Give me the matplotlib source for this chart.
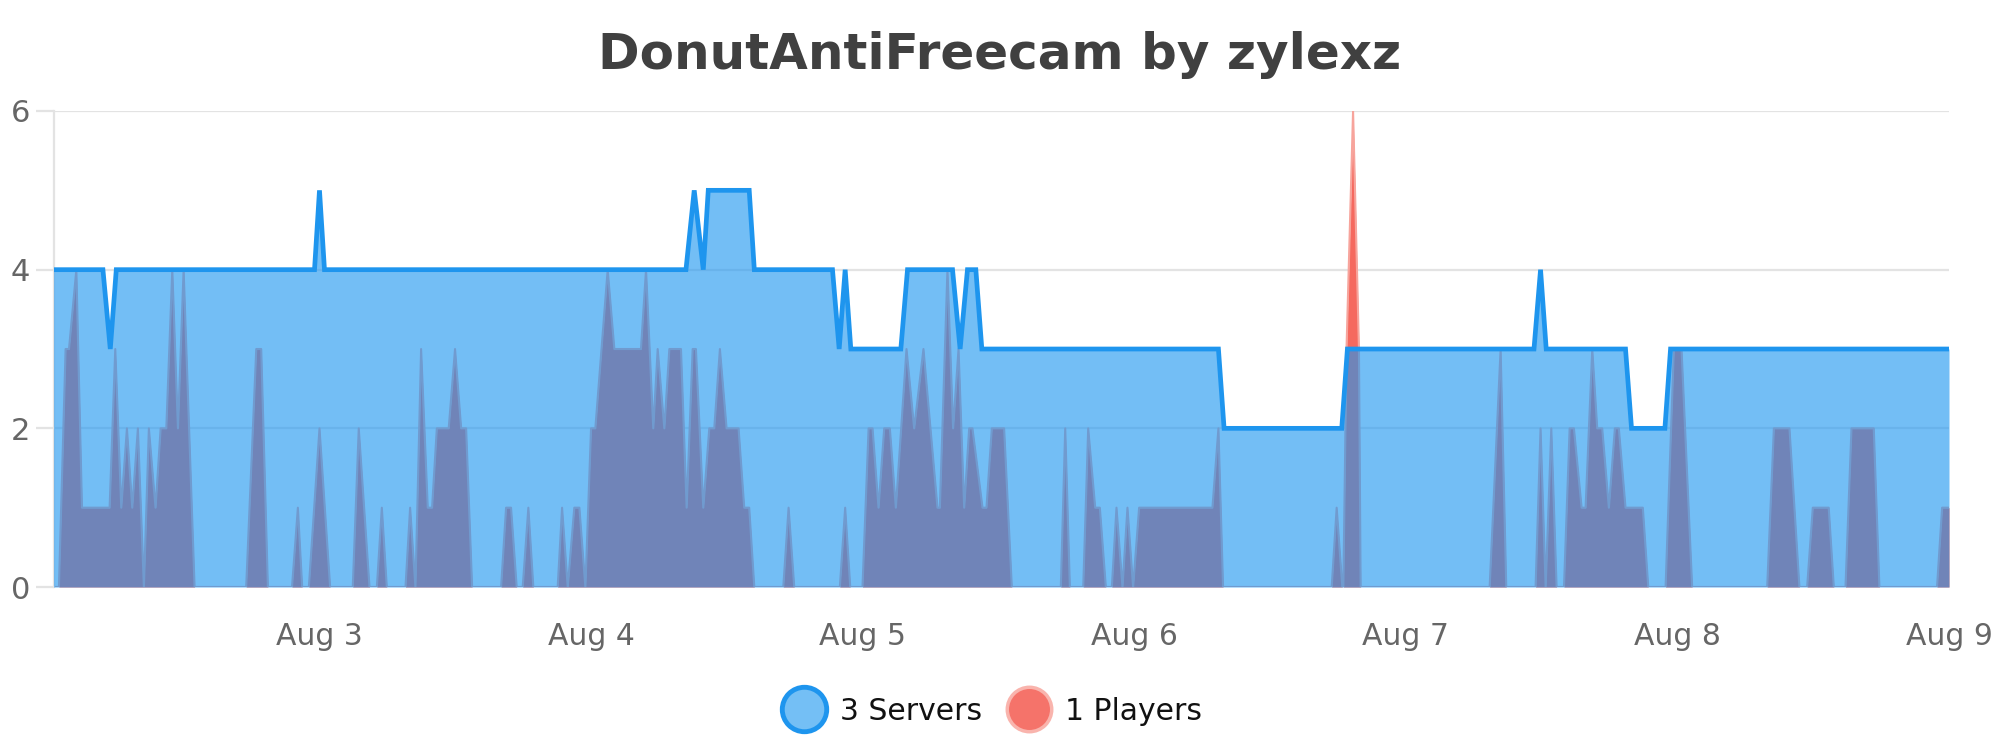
import datetime as dt
import matplotlib
matplotlib.use("Agg")
import matplotlib.pyplot as plt
import matplotlib.dates as mdates
from matplotlib.lines import Line2D

# values, time in hours after Aug 2 00:00
servers_hours = [0.48, 4.84, 5.49, 6.02, 23.54, 23.98, 24.42, 56.37, 57.1, 57.9,
                 58.34, 61.96, 62.41, 69.32, 69.91, 70.44, 70.94, 75.36, 75.95, 79.93,
                 80.6, 81.25, 81.99, 82.52, 103.43, 103.93, 114.33, 114.83, 131.32, 131.9,
                 132.4, 139.41, 139.94, 142.89, 143.39, 168.0]
servers_values = [4, 4, 3, 4, 4, 5, 4, 4, 5, 4,
                  5, 5, 4, 4, 3, 4, 3, 3, 4, 4,
                  3, 4, 4, 3, 3, 2, 2, 3, 3, 4,
                  3, 3, 2, 2, 3, 3]

players_hours = [0.48, 0.95, 1.54, 1.84, 2.49, 2.99, 5.43, 5.93, 6.46, 6.96,
                 7.43, 7.93, 8.46, 8.9, 9.49, 9.94, 10.44, 10.97, 11.47, 11.97,
                 12.94, 17.5, 18.39, 18.83, 19.42, 21.55, 22.07, 22.45, 23.04, 23.98,
                 24.92, 26.92, 27.45, 28.4, 29.05, 29.49, 29.93, 31.58, 31.99, 32.46,
                 32.96, 33.55, 33.93, 34.35, 35.4, 35.96, 36.5, 36.94, 37.47, 40.03,
                 40.47, 40.91, 41.41, 41.94, 42.44, 42.88, 45.03, 45.42, 45.92, 46.5,
                 46.95, 47.48, 47.98, 48.36, 49.45, 50.04, 52.39, 52.84, 53.48, 53.87,
                 54.46, 54.9, 55.93, 56.43, 56.96, 57.25, 57.9, 58.43, 58.87, 59.37,
                 59.96, 61.02, 61.52, 61.96, 62.41, 64.97, 65.44, 65.94, 69.97, 70.44,
                 70.89, 71.97, 72.51, 72.86, 73.39, 73.89, 74.39, 74.92, 75.86, 76.54,
                 77.36, 78.6, 78.81, 79.48, 79.98, 80.46, 80.96, 81.4, 81.69, 82.58,
                 82.93, 83.4, 84.49, 85.17, 89.5, 89.89, 90.3, 91.48, 91.92, 92.54,
                 92.95, 93.48, 94.01, 94.42, 94.95, 95.39, 95.89, 96.42, 102.9, 103.43,
                 103.84, 113.44, 113.88, 114.38, 114.47, 114.75, 115.33, 115.85, 116.0, 127.4,
                 128.37, 128.87, 131.46, 131.9, 132.35, 132.85, 133.32, 133.97, 134.47, 134.85,
                 135.53, 135.88, 136.47, 136.91, 137.35, 137.94, 138.47, 138.82, 139.41, 140.94,
                 141.42, 142.95, 143.68, 144.36, 145.3, 151.93, 152.52, 153.9, 154.78, 155.46,
                 155.96, 157.37, 157.82, 158.85, 159.38, 161.35, 161.85, 166.94, 167.39, 168.0]
players_values = [0, 0, 3, 3, 4, 1, 1, 3, 1, 2,
                  1, 2, 0, 2, 1, 2, 2, 4, 2, 4,
                  0, 0, 3, 3, 0, 0, 1, 0, 0, 2,
                  0, 0, 2, 0, 0, 1, 0, 0, 1, 0,
                  3, 1, 1, 2, 2, 3, 2, 2, 0, 0,
                  1, 1, 0, 0, 1, 0, 0, 1, 0, 1,
                  1, 0, 2, 2, 4, 3, 3, 4, 2, 3,
                  2, 3, 3, 1, 3, 3, 1, 2, 2, 3,
                  2, 2, 1, 1, 0, 0, 1, 0, 0, 1,
                  0, 0, 2, 2, 1, 2, 2, 1, 3, 2,
                  3, 1, 1, 4, 2, 3, 1, 2, 2, 1,
                  1, 2, 2, 0, 0, 2, 0, 0, 2, 1,
                  1, 0, 0, 1, 0, 1, 0, 1, 1, 2,
                  0, 0, 1, 0, 0, 3, 6, 3, 0, 0,
                  3, 0, 0, 2, 0, 2, 0, 0, 2, 2,
                  1, 1, 3, 2, 2, 1, 2, 2, 1, 1,
                  0, 0, 3, 3, 0, 0, 2, 2, 0, 0,
                  1, 1, 0, 0, 2, 2, 0, 0, 1, 1]

tick_days = [3, 4, 5, 6, 7, 8, 9]
title = "DonutAntiFreecam by zylexz"
server_label = "3 Servers"
player_label = "1 Players"

base = dt.datetime(2024, 8, 2)
srv_t = [base + dt.timedelta(hours=h) for h in servers_hours]
ply_t = [base + dt.timedelta(hours=h) for h in players_hours]

blue_line = "#1e95ee"
blue_fill = "#1e96f0"
red_fill = "#f5695f"
red_line = "#f7a49c"

fig = plt.figure(figsize=(20, 7.5), dpi=100)
ax = fig.add_axes([0.0268, 0.2173, 0.9477, 0.6347])

# players underneath, opaque
ax.fill_between(ply_t, players_values, 0, color=red_fill, lw=0, zorder=2)
ax.plot(ply_t, players_values, color=red_line, lw=1.5, zorder=2.5)
# servers on top, semi transparent
ax.fill_between(srv_t, servers_values, 0, color=blue_fill, alpha=0.62, lw=0, zorder=3)
ax.plot(srv_t, servers_values, color=blue_line, lw=3.4, zorder=4,
        solid_joinstyle="miter")

ax.set_ylim(0, 6)
ax.set_yticks([0, 2, 4, 6])
ax.set_xlim(base + dt.timedelta(hours=servers_hours[0]), base + dt.timedelta(hours=168))
ax.set_xticks([dt.datetime(2024, 8, d) for d in tick_days])
ax.xaxis.set_major_formatter(
    matplotlib.ticker.FuncFormatter(lambda v, p: f"Aug {mdates.num2date(v).day}"))

ax.grid(axis="y", color="#e3e3e3", lw=1.6, zorder=1)
ax.set_axisbelow(True)
for s in ["top", "right", "bottom"]:
    ax.spines[s].set_visible(False)
ax.spines["left"].set_color("#e3e3e3")
ax.spines["left"].set_linewidth(1.6)
ax.tick_params(axis="y", length=13, width=1.6, color="#e3e3e3", labelsize=22,
               labelcolor="#666666", pad=4)
ax.tick_params(axis="x", length=0, labelsize=21.5, labelcolor="#666666", pad=25)

fig.text(0.5, 0.927, title, ha="center", va="center", fontsize=36,
         fontweight="bold", color="#404040")

handles = [
    Line2D([], [], ls="none", marker="o", markersize=32, markerfacecolor="#74bff5",
           markeredgecolor=blue_line, markeredgewidth=3.5, label=server_label),
    Line2D([], [], ls="none", marker="o", markersize=32, markerfacecolor="#f5736a",
           markeredgecolor="#f9b4ad", markeredgewidth=2.5, label=player_label),
]
fig.legend(handles=handles, loc="center", bbox_to_anchor=(0.497, 0.052), ncol=2,
           frameon=False, fontsize=21.5, handletextpad=0.6, columnspacing=1.0,
           handlelength=1.2, labelcolor="#111111")

fig.savefig("out.png", dpi=100)
